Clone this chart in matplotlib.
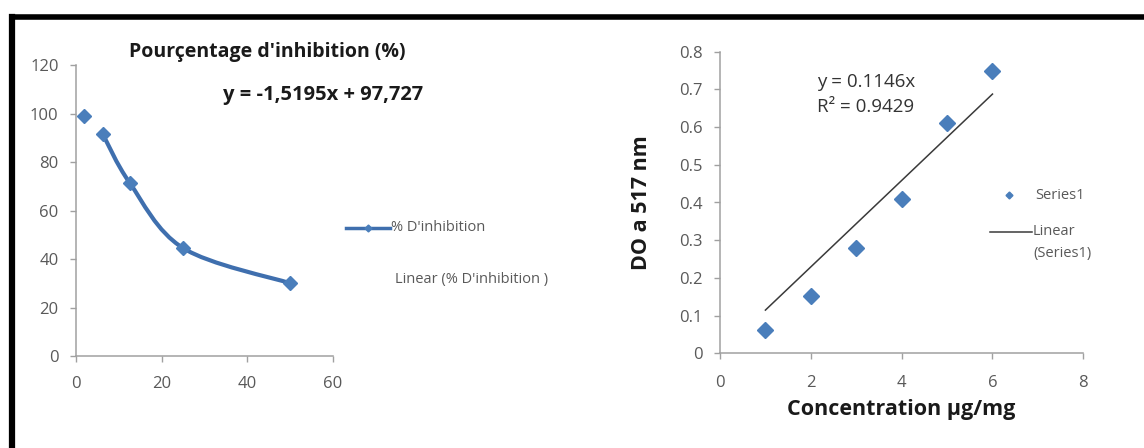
import numpy as np
import matplotlib.pyplot as plt
from matplotlib.path import Path
from matplotlib.patches import PathPatch
from matplotlib.lines import Line2D

#################################################

# left chart: % inhibition vs concentration
conc_inhib = [1.8, 6.25, 12.5, 25, 50]
pct_inhib = [99, 91.5, 71.5, 44.5, 30]

# right chart: DO at 517 nm vs concentration
conc_do = [1, 2, 3, 4, 5, 6]
do_517 = [0.062, 0.153, 0.279, 0.409, 0.612, 0.750]
slope_do = 0.1146

#################################################

plt.rcParams['font.family'] = ['Open Sans', 'DejaVu Sans']

W, H = 1144, 448
blue = '#4a7ebb'
line_blue = '#3f6fae'
axis_gray = '#a0a0a0'
text_gray = '#595959'

def fx(px):
  return px / W

def fy(py):
  return 1 - py / H

def smooth_path(xs, ys):
  # excel-like smoothed line, bezier control points from neighbours
  pts = np.column_stack([xs, ys]).astype(float)
  n = len(pts)
  verts = [pts[0]]
  codes = [Path.MOVETO]
  for i in range(n - 1):
    p0 = pts[max(i - 1, 0)]
    p1 = pts[i]
    p2 = pts[i + 1]
    p3 = pts[min(i + 2, n - 1)]
    verts += [p1 + (p2 - p0) / 6, p2 - (p3 - p1) / 6, p2]
    codes += [Path.CURVE4] * 3
  return Path(verts, codes)

def style_axes(ax, xpad, ypad):
  for s in ['top', 'right']:
    ax.spines[s].set_visible(False)
  for s in ['left', 'bottom']:
    ax.spines[s].set_color(axis_gray)
    ax.spines[s].set_linewidth(1.1)
  ax.tick_params(axis='both', direction='out', length=4.5, width=1.0,
                 color=axis_gray, labelcolor=text_gray, labelsize=12)
  ax.tick_params(axis='x', pad=xpad)
  ax.tick_params(axis='y', pad=ypad)

fig = plt.figure(figsize=(W / 100, H / 100), dpi=100)

# outer black frame (right / bottom edges are cut off in the picture)
fig.add_artist(Line2D([fx(11.5), fx(1200)], [fy(17), fy(17)], color='black', lw=4, transform=fig.transFigure))
fig.add_artist(Line2D([fx(11.5), fx(11.5)], [fy(17), fy(500)], color='black', lw=4.5, transform=fig.transFigure))

#################################################
# left chart

ax1 = fig.add_axes([fx(76), fy(356), (333 - 76) / W, (356 - 65) / H])
ax1.add_patch(PathPatch(smooth_path(conc_inhib[1:], pct_inhib[1:]), facecolor='none',
                        edgecolor=line_blue, lw=3, capstyle='round', joinstyle='round', zorder=2))
ax1.plot(conc_inhib, pct_inhib, linestyle='none', marker='D', ms=7.5, color=blue, zorder=3)
ax1.set_xlim(0, 60)
ax1.set_ylim(0, 120)
ax1.set_xticks(np.arange(0, 61, 20))
ax1.set_yticks(np.arange(0, 121, 20))
style_axes(ax1, 10, 8)

fig.text(fx(129), fy(52), "Pourçentage d'inhibition (%)", fontsize=14, fontweight='bold',
         color='#1a1a1a', ha='left', va='center')
fig.text(fx(223), fy(95), "y = -1,5195x + 97,727", fontsize=14.5, fontweight='bold',
         color='#1a1a1a', ha='left', va='center')

# legend of left chart
fig.add_artist(Line2D([fx(346), fx(390)], [fy(227.7), fy(227.7)], color=line_blue, lw=2.5,
                      transform=fig.transFigure))
fig.add_artist(Line2D([fx(368)], [fy(227.7)], marker='D', ms=3.5, color=blue, transform=fig.transFigure))
fig.text(fx(391), fy(227.7), "% D'inhibition", fontsize=10.5, color=text_gray, ha='left', va='center')
fig.text(fx(395), fy(280), "Linear (% D'inhibition )", fontsize=10.5, color=text_gray, ha='left', va='center')

#################################################
# right chart

ax2 = fig.add_axes([fx(720), fy(353.3), (1083.3 - 720) / W, (353.3 - 51.7) / H])
ax2.plot(conc_do, do_517, linestyle='none', marker='D', ms=8.5, color=blue, zorder=3)
fit_x = np.array([min(conc_do), max(conc_do)])
ax2.plot(fit_x, slope_do * fit_x, color='#3a3a3a', lw=1.1, zorder=2)
ax2.set_xlim(0, 8)
ax2.set_ylim(0, 0.8)
ax2.set_xticks(np.arange(0, 9, 2))
ax2.set_yticks(np.arange(0, 0.81, 0.1))
ax2.set_yticklabels(['0'] + ['%.1f' % v for v in np.arange(0.1, 0.81, 0.1)])
style_axes(ax2, 11, 8)

ax2.set_xlabel("Concentration µg/mg", fontsize=15.5, fontweight='bold', color='#1a1a1a')
ax2.xaxis.set_label_coords(0.5, -0.152)
ax2.set_ylabel("DO a 517 nm", fontsize=15.5, fontweight='bold', color='#1a1a1a')
ax2.yaxis.set_label_coords(-0.187, 0.5)

fig.text(fx(817), fy(81.7), "y = 0.1146x", fontsize=13.5, color='#333333', ha='left', va='center')
fig.text(fx(817), fy(106.7), "R² = 0.9429", fontsize=13.5, color='#333333', ha='left', va='center')

# legend of right chart
fig.add_artist(Line2D([fx(1009.3)], [fy(195)], marker='D', ms=3.5, color=blue, transform=fig.transFigure))
fig.text(fx(1035), fy(195), "Series1", fontsize=10.5, color=text_gray, ha='left', va='center')
fig.add_artist(Line2D([fx(990), fx(1032)], [fy(231.7), fy(231.7)], color='#3a3a3a', lw=1.1,
                      transform=fig.transFigure))
fig.text(fx(1033), fy(231.7), "Linear", fontsize=10.5, color=text_gray, ha='left', va='center')
fig.text(fx(1033), fy(253.3), "(Series1)", fontsize=10.5, color=text_gray, ha='left', va='center')

plt.savefig('out.png', dpi=100)
